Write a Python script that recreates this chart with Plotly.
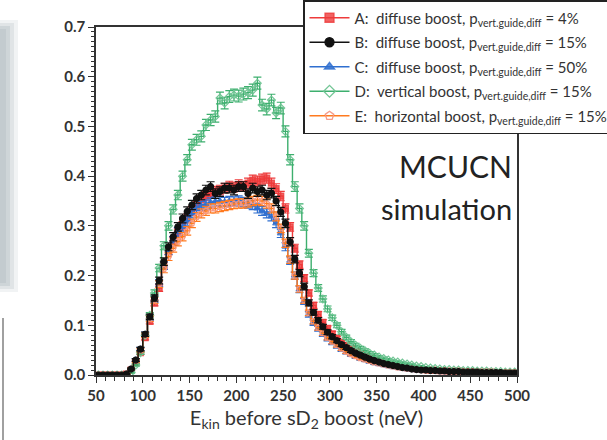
import plotly.graph_objects as go
import numpy as np

# ---- data: 5 neV bins from 50 to 500 neV ----
BIN_START = 50.0
BIN_WIDTH = 5.0

A_diffuse_4 = [0, 0, 0, 0, 0, 0,
    0.002, 0.01, 0.025, 0.045, 0.075, 0.108, 0.145, 0.175, 0.22, 0.25, 0.27, 0.285, 0.30, 0.315,
    0.33, 0.34, 0.352, 0.36, 0.365, 0.37, 0.372, 0.376, 0.38, 0.378, 0.383, 0.38, 0.386, 0.392,
    0.39, 0.394, 0.396, 0.386, 0.375, 0.36, 0.335, 0.298, 0.255, 0.222, 0.195, 0.165, 0.14, 0.122,
    0.106, 0.094, 0.083,
    0.074, 0.066, 0.059, 0.053, 0.048, 0.043, 0.039, 0.035, 0.031, 0.028, 0.025, 0.023, 0.021,
    0.019, 0.017, 0.015, 0.014, 0.013, 0.012, 0.011, 0.01, 0.01, 0.009, 0.009, 0.008, 0.008,
    0.008, 0.007, 0.007, 0.007, 0.006, 0.006, 0.006, 0.006, 0.005, 0.005, 0.005, 0.005, 0.005]

B_diffuse_15 = [0, 0, 0, 0, 0, 0,
    0.002, 0.012, 0.03, 0.052, 0.082, 0.117, 0.155, 0.19, 0.228, 0.258, 0.278, 0.298, 0.315, 0.329,
    0.342, 0.355, 0.362, 0.372, 0.379, 0.365, 0.369, 0.376, 0.376, 0.372, 0.379, 0.379, 0.365, 0.376,
    0.369, 0.372, 0.362, 0.366, 0.35, 0.328, 0.305, 0.268, 0.233, 0.205, 0.178, 0.145, 0.126, 0.11,
    0.097, 0.086, 0.077,
    0.069, 0.061, 0.055, 0.049, 0.044, 0.04, 0.036, 0.032, 0.029, 0.026, 0.023, 0.021, 0.019,
    0.017, 0.015, 0.014, 0.012, 0.011, 0.01, 0.01, 0.009, 0.009, 0.008, 0.008, 0.007, 0.007,
    0.007, 0.006, 0.006, 0.006, 0.006, 0.005, 0.005, 0.005, 0.005, 0.005, 0.004, 0.004, 0.004]

C_diffuse_50 = [0, 0, 0, 0, 0, 0,
    0.002, 0.012, 0.03, 0.052, 0.082, 0.115, 0.152, 0.185, 0.22, 0.25, 0.27, 0.288, 0.298, 0.31,
    0.325, 0.335, 0.34, 0.343, 0.347, 0.349, 0.35, 0.348, 0.35, 0.349, 0.351, 0.348, 0.345, 0.342,
    0.335, 0.33, 0.325, 0.319, 0.305, 0.285, 0.258, 0.23, 0.2, 0.172, 0.148, 0.122, 0.105, 0.093,
    0.082, 0.073, 0.065,
    0.058, 0.051, 0.046, 0.041, 0.037, 0.033, 0.03, 0.027, 0.024, 0.022, 0.02, 0.018, 0.016,
    0.015, 0.013, 0.012, 0.011, 0.01, 0.009, 0.009, 0.008, 0.008, 0.007, 0.007, 0.007, 0.006,
    0.006, 0.006, 0.005, 0.005, 0.005, 0.005, 0.005, 0.004, 0.004, 0.004, 0.004, 0.004, 0.004]

D_vertical_15 = [0, 0, 0, 0, 0, 0,
    0.0, 0.005, 0.02, 0.045, 0.08, 0.12, 0.165, 0.215, 0.26, 0.3, 0.333, 0.362, 0.40, 0.433,
    0.463, 0.473, 0.48, 0.503, 0.513, 0.52, 0.557, 0.547, 0.56, 0.563, 0.561, 0.565, 0.568, 0.573,
    0.587, 0.543, 0.535, 0.553, 0.527, 0.537, 0.49, 0.433, 0.379, 0.335, 0.30, 0.245, 0.205, 0.175,
    0.153, 0.133, 0.115,
    0.10, 0.087, 0.076, 0.067, 0.06, 0.054, 0.049, 0.044, 0.04, 0.036, 0.033, 0.03, 0.028,
    0.026, 0.024, 0.022, 0.02, 0.018, 0.017, 0.015, 0.014, 0.013, 0.012, 0.011, 0.011, 0.01,
    0.01, 0.009, 0.009, 0.009, 0.008, 0.008, 0.008, 0.007, 0.007, 0.007, 0.006, 0.006, 0.006]

E_horizontal_15 = [0, 0, 0, 0, 0, 0,
    0.002, 0.012, 0.028, 0.05, 0.08, 0.113, 0.15, 0.183, 0.213, 0.238, 0.255, 0.268, 0.278, 0.29,
    0.305, 0.318, 0.325, 0.33, 0.335, 0.335, 0.338, 0.34, 0.342, 0.344, 0.345, 0.345, 0.347, 0.35,
    0.352, 0.35, 0.345, 0.335, 0.319, 0.295, 0.265, 0.232, 0.2, 0.173, 0.15, 0.125, 0.108, 0.095,
    0.084, 0.075, 0.067,
    0.06, 0.053, 0.047, 0.042, 0.038, 0.034, 0.031, 0.028, 0.025, 0.023, 0.021, 0.019, 0.017,
    0.015, 0.014, 0.013, 0.012, 0.011, 0.01, 0.009, 0.009, 0.008, 0.008, 0.008, 0.007, 0.007,
    0.007, 0.007, 0.006, 0.006, 0.006, 0.006, 0.006, 0.006, 0.005, 0.005, 0.005, 0.005, 0.005]

# statistical (Poisson-like) error scale: err = sqrt(value * ERR_SCALE)
ERR_SCALE = 0.00025

labels = [
    "A:  diffuse boost, p<sub>vert.guide,diff</sub> = 4%",
    "B:  diffuse boost, p<sub>vert.guide,diff</sub> = 15%",
    "C:  diffuse boost, p<sub>vert.guide,diff</sub> = 50%",
    "D:  vertical boost, p<sub>vert.guide,diff</sub> = 15%",
    "E:  horizontal boost, p<sub>vert.guide,diff</sub> = 15%",
]
x_ticks = [50, 100, 150, 200, 250, 300, 350, 400, 450, 500]
y_ticks = [0.0, 0.1, 0.2, 0.3, 0.4, 0.5, 0.6, 0.7]

n_bins = len(A_diffuse_4)
centers = BIN_START + BIN_WIDTH * (np.arange(n_bins) + 0.5)

# (values, label, line colour, symbol, marker colour, legend rank)
styles = {
    "A": (A_diffuse_4, labels[0], "#EE3B3B", "square", "rgba(238,59,59,0.8)", 1),
    "B": (B_diffuse_15, labels[1], "#111111", "circle", "#111111", 2),
    "C": (C_diffuse_50, labels[2], "#2F6FD0", "triangle-up", "rgba(47,111,208,0.8)", 3),
    "D": (D_vertical_15, labels[3], "#3DAF6E", "diamond-open", "rgba(110,195,145,0.95)", 4),
    "E": (E_horizontal_15, labels[4], "#FF7A1F", "pentagon-open", "rgba(245,150,130,0.95)", 5),
}
draw_order = ["A", "C", "D", "E", "B"]

fig = go.Figure()
for key in draw_order:
    vals, lab, lc, sym, mc, rank = styles[key]
    v = np.array(vals, dtype=float)
    err = np.sqrt(v * ERR_SCALE)
    fig.add_trace(go.Scatter(
        x=centers, y=v, name=lab, showlegend=False,
        mode="lines+markers", line=dict(shape="hvh", color=lc, width=1.4),
        marker=dict(symbol=sym, size=6, color=mc, line=dict(color=mc, width=1.2)),
        error_y=dict(type="data", array=err, visible=True, color=lc, thickness=1.2, width=4),
    ))
# legend entries (larger symbols as in the reference legend)
for key in ["A", "B", "C", "D", "E"]:
    vals, lab, lc, sym, mc, rank = styles[key]
    fig.add_trace(go.Scatter(
        x=[None], y=[None], name=lab, legendgroup=key, legendrank=rank,
        mode="lines+markers", line=dict(color=lc, width=1.4),
        marker=dict(symbol=sym, size=9, color=mc, line=dict(color=mc, width=1.3)),
    ))

axis_col = "#333333"
fig.update_xaxes(
    range=[50, 500], tickvals=x_ticks, ticks="outside", ticklen=6, tickwidth=1.3,
    tickcolor=axis_col, showline=True, linecolor=axis_col, linewidth=1.5, mirror=True,
    showgrid=False, zeroline=False,
    minor=dict(dtick=10, ticks="outside", ticklen=4, tickwidth=1.1, tickcolor=axis_col),
    tickfont=dict(family="Lato", size=15, color="#333333", weight="bold"),
    title=dict(text="E<sub>kin</sub> before sD<sub>2</sub> boost (neV)",
               font=dict(family="Lato", size=20, color="#333333"), standoff=8),
)
fig.update_yaxes(
    range=[0, 0.7], tickvals=y_ticks, tickformat=".1f", ticks="outside", ticklen=6, tickwidth=1.3,
    tickcolor=axis_col, showline=True, linecolor=axis_col,
    linewidth=1.5, mirror=True, showgrid=False, zeroline=False,
    minor=dict(dtick=0.01, ticks="outside", ticklen=3, tickwidth=1.0, tickcolor=axis_col),
    tickfont=dict(family="Lato", size=15, color="#333333", weight="bold"),
    title=dict(text="transmission (%)", font=dict(family="Lato", size=20, color="#333333"), standoff=8),
)

W, H = 607, 440
L, R, T, B = 96, 90, 27, 65
pw, ph = W - L - R, H - T - B


def px(xp):
    return (xp - L) / pw


def py(yp):
    return (H - B - yp) / ph


shapes = []
for i, op in enumerate([0.2, 0.3, 0.45, 0.55]):
    shapes.append(dict(type="rect", xref="paper", yref="paper",
                       x0=px(-2), x1=px(18 - 4 * i), y0=py(292 - 3 * i), y1=py(20 + 3 * i),
                       fillcolor="#b9c3c8", opacity=op, line=dict(width=0), layer="below"))
shapes.append(dict(type="line", xref="paper", yref="paper", x0=px(3), x1=px(3),
                   y0=py(318), y1=py(442), line=dict(color="#a0a0a0", width=2)))

fig.update_layout(
    width=W, height=H,
    margin=dict(l=L, r=R, t=T, b=B, autoexpand=False),
    paper_bgcolor="white", plot_bgcolor="white",
    font=dict(family="Lato", color="#333333"),
    showlegend=True,
    legend=dict(xref="container", yref="container", x=303 / W, y=1.0,
                xanchor="left", yanchor="top",
                bgcolor="white", bordercolor="#222222", borderwidth=1.5,
                font=dict(family="Lato", size=15, color="#333333"),
                tracegroupgap=2, itemwidth=40),
    shapes=shapes,
    annotations=[
        dict(text="MCUCN", xref="paper", yref="paper", x=px(514), y=py(166),
             xanchor="right", yanchor="middle", showarrow=False,
             font=dict(family="Lato", size=30, color="#222222")),
        dict(text="simulation", xref="paper", yref="paper", x=px(514), y=py(208),
             xanchor="right", yanchor="middle", showarrow=False,
             font=dict(family="Lato", size=29, color="#222222")),
    ],
)

fig.write_html("out.html", config={"displayModeBar": False},
               post_script="document.body.style.margin='0';")
